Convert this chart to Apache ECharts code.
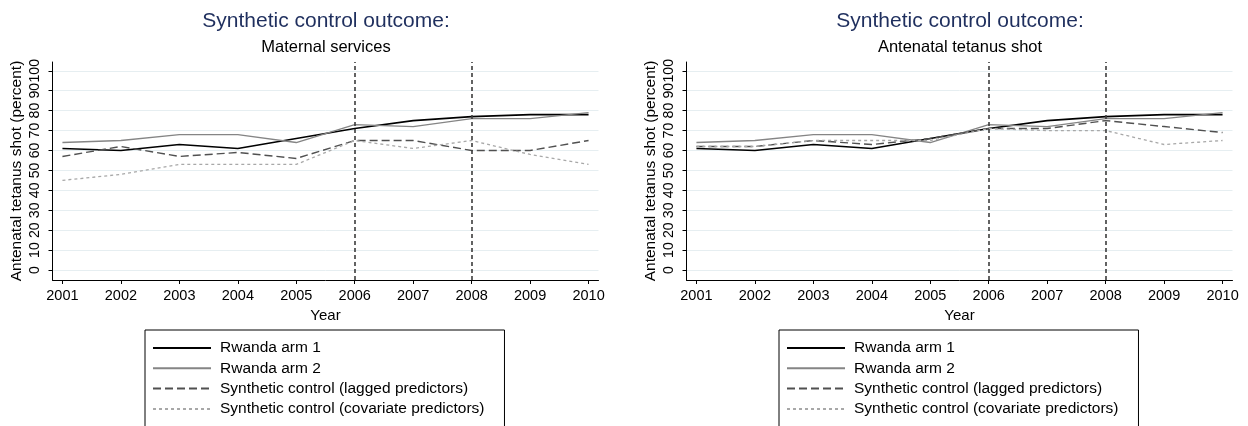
<!DOCTYPE html>
<html>
<head>
<meta charset="utf-8">
<script src="https://cdn.jsdelivr.net/npm/echarts@6/dist/echarts.min.js"></script>
<style>
  html, body { margin: 0; padding: 0; background: #fff; }
  #chart { width: 1248px; height: 426px; }
</style>
</head>
<body>
<div id="chart"></div>
<script>
const years = [2001, 2002, 2003, 2004, 2005, 2006, 2007, 2008, 2009, 2010];
const yTicks = [0, 10, 20, 30, 40, 50, 60, 70, 80, 90, 100];
const interventionYears = [2006, 2008];

// left panel: maternal services
const maternalArm1 = [61, 60, 63, 61, 66, 71, 75, 77, 78, 78];
const maternalArm2 = [64, 65, 68, 68, 64, 73, 72, 76, 76, 79];
const maternalLagged = [57, 62, 57, 59, 56, 65, 65, 60, 60, 65];
const maternalCovariate = [45, 48, 53, 53, 53, 65, 61, 65, 58, 53];

// right panel: antenatal tetanus shot
const tetanusArm1 = [61, 60, 63, 61, 66, 71, 75, 77, 78, 78];
const tetanusArm2 = [64, 65, 68, 68, 64, 73, 72, 76, 76, 79];
const tetanusLagged = [62, 62, 65, 63, 66, 71, 71, 75, 72, 69];
const tetanusCovariate = [62, 62, 65, 65, 65, 71, 70, 70, 63, 65];

const seriesNames = ['Rwanda arm 1', 'Rwanda arm 2', 'Synthetic control (lagged predictors)', 'Synthetic control (covariate predictors)'];
const subtitles = ['Maternal services', 'Antenatal tetanus shot'];

const font = "'Liberation Sans', Arial, sans-serif";
const lineStyles = [
  { color: '#000000', width: 1.6, type: 'solid' },
  { color: '#858585', width: 1.3, type: 'solid' },
  { color: '#505050', width: 1.4, type: [8, 4] },
  { color: '#a8a8a8', width: 1.3, type: [3, 3] }
];

const pairs = (vals) => years.map((y, i) => [y, vals[i]]);

const makeSeries = (idx, name, vals, style, withMarks) => {
  const s = {
    name: name,
    type: 'line',
    xAxisIndex: idx,
    yAxisIndex: idx,
    data: pairs(vals),
    symbol: 'none',
    lineStyle: style,
    itemStyle: { color: style.color },
    emphasis: { disabled: true },
    animation: false,
    z: 3
  };
  if (withMarks) {
    s.markLine = {
      silent: true,
      symbol: 'none',
      label: { show: false },
      lineStyle: { color: '#3c3c3c', width: 1.6, type: [4, 3] },
      data: interventionYears.map(y => ({ xAxis: y }))
    };
  }
  return s;
};

const offsets = [0, 634];
const panels = [
  [maternalArm1, maternalArm2, maternalLagged, maternalCovariate],
  [tetanusArm1, tetanusArm2, tetanusLagged, tetanusCovariate]
];

const option = {
  backgroundColor: '#ffffff',
  animation: false,
  title: offsets.map((off, i) => ({
    text: 'Synthetic control outcome:',
    subtext: subtitles[i],
    left: 326 + off,
    top: 9,
    padding: 0,
    textAlign: 'center',
    itemGap: 5.5,
    textStyle: { fontFamily: font, fontSize: 21, fontWeight: 'normal', color: '#1f2f5e', lineHeight: 24 },
    subtextStyle: { fontFamily: font, fontSize: 16.5, color: '#000000', lineHeight: 18 }
  })),
  legend: offsets.map(off => ({
    data: seriesNames,
    orient: 'vertical',
    left: 145 + off,
    top: 330,
    height: 100,
    padding: [10, 20, 14, 7],
    itemWidth: 58,
    itemHeight: 16,
    itemGap: 4.3,
    borderColor: '#000000',
    borderWidth: 1,
    selectedMode: false,
    itemStyle: { color: 'rgba(0,0,0,0)', borderColor: 'rgba(0,0,0,0)', borderWidth: 0, opacity: 0 },
    textStyle: { fontFamily: font, fontSize: 15.5, color: '#000000', lineHeight: 16, padding: [0, 0, 0, 4] }
  })),
  grid: offsets.map(off => ({
    left: 52.5 + off,
    width: 546,
    top: 62,
    bottom: 146,
    containLabel: false
  })),
  xAxis: offsets.map((off, i) => ({
    type: 'value',
    gridIndex: i,
    min: 2000.83,
    max: 2010.17,
    name: 'Year',
    nameLocation: 'middle',
    nameGap: 25,
    nameTextStyle: { fontFamily: font, fontSize: 15, color: '#000000' },
    axisLine: { show: true, onZero: false, lineStyle: { color: '#000000', width: 1 } },
    axisTick: { show: true, length: 4, customValues: years, lineStyle: { color: '#000000' } },
    axisLabel: { customValues: years, margin: 8, fontFamily: font, fontSize: 14.5, color: '#000000', formatter: v => String(v) },
    splitLine: { show: false }
  })),
  yAxis: offsets.map((off, i) => ({
    type: 'value',
    gridIndex: i,
    min: -5,
    max: 104.4,
    name: 'Antenatal tetanus shot (percent)',
    nameLocation: 'middle',
    nameRotate: 90,
    nameGap: 28,
    nameTextStyle: { fontFamily: font, fontSize: 15.5, color: '#000000' },
    axisLine: { show: true, onZero: false, lineStyle: { color: '#000000', width: 1 } },
    axisTick: { show: true, length: 4, customValues: yTicks, lineStyle: { color: '#000000' } },
    axisLabel: { customValues: yTicks, rotate: 90, margin: 10, fontFamily: font, fontSize: 14.2, color: '#000000', hideOverlap: false },
    splitLine: { show: true, lineStyle: { color: '#e6eef1', width: 1 } }
  })),
  series: []
};

panels.forEach((vals, p) => {
  vals.forEach((v, k) => {
    option.series.push(makeSeries(p, seriesNames[k], v, lineStyles[k], k === 0));
  });
});

const chart = echarts.init(document.getElementById('chart'));
chart.setOption(option);
</script>
</body>
</html>
